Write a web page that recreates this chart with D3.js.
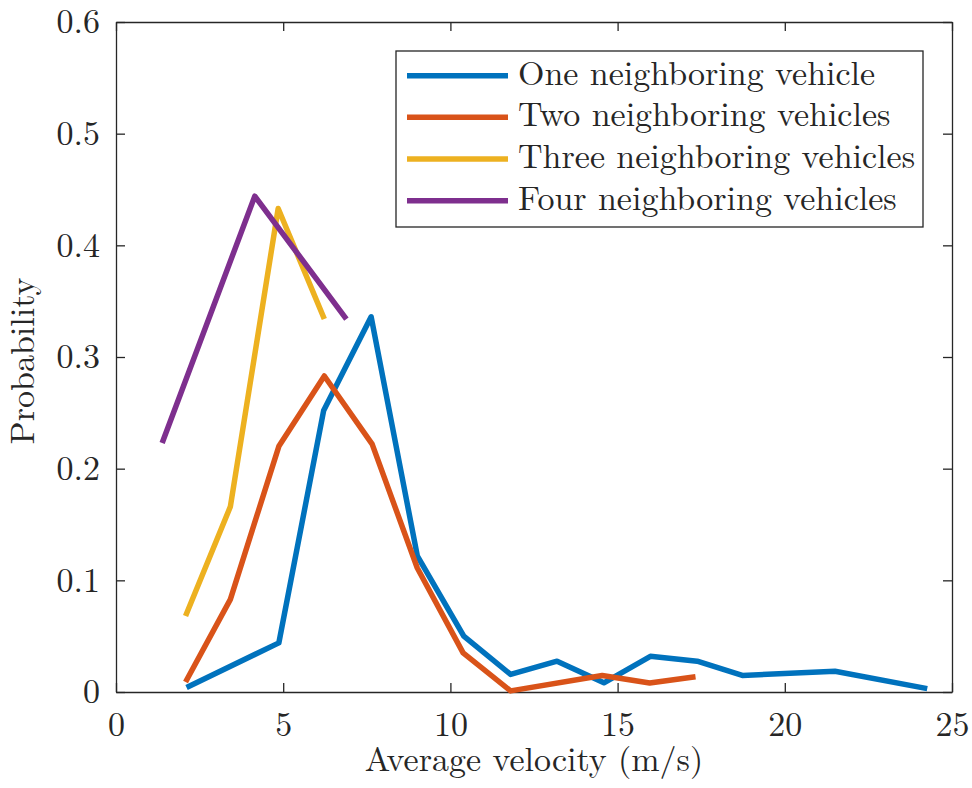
<!DOCTYPE html>
<html>
<head>
<meta charset="utf-8">
<script src="https://cdn.jsdelivr.net/npm/d3@7"></script>
<style>
  html, body { margin: 0; padding: 0; background: #fff; }
  svg { display: block; }
  text { font-family: "Latin Modern Roman", "Liberation Serif", serif; fill: #262626; }
</style>
</head>
<body>
<svg id="chart" width="972" height="788"></svg>
<script>
// ---- data ----
const seriesNames = ["One neighboring vehicle", "Two neighboring vehicles", "Three neighboring vehicles", "Four neighboring vehicles"];
const seriesColors = ["#0072BD", "#D95319", "#EDB120", "#7E2F8E"];

const oneX = [2.11, 4.87, 6.21, 7.63, 9.01, 10.40, 11.80, 13.19, 14.59, 15.98, 17.38, 18.73, 21.50, 24.26];
const oneY = [0.004, 0.044, 0.252, 0.336, 0.122, 0.050, 0.0157, 0.0276, 0.0082, 0.032, 0.0276, 0.0148, 0.0186, 0.003];

const twoX = [2.08, 3.42, 4.87, 6.23, 7.66, 9.01, 10.38, 11.80, 14.54, 15.96, 17.33];
const twoY = [0.009, 0.083, 0.220, 0.283, 0.222, 0.111, 0.035, 0.001, 0.0148, 0.008, 0.0136];

const threeX = [2.08, 3.42, 4.85, 6.23];
const threeY = [0.068, 0.166, 0.433, 0.334];

const fourX = [1.38, 4.15, 6.89];
const fourY = [0.223, 0.444, 0.334];

const xTicks = [0, 5, 10, 15, 20, 25];
const yTicks = [0, 0.1, 0.2, 0.3, 0.4, 0.5, 0.6];
const xLabel = "Average velocity (m/s)";
const yLabel = "Probability";

// ---- layout ----
const svg = d3.select("#chart");
const mLeft = 116, mRight = 952, mTop = 22, mBottom = 692;
const x = d3.scaleLinear().domain([0, 25]).range([mLeft, mRight]);
const y = d3.scaleLinear().domain([0, 0.6]).range([mBottom, mTop]);
const axisColor = "#262626";
const tickLen = 9;
const FONT = "Latin Modern Roman, Liberation Serif, serif";

// axes (box with inward ticks)
const gB = svg.append("g").attr("transform", `translate(0,${mBottom})`)
  .call(d3.axisBottom(x).tickValues(xTicks).tickSizeInner(-tickLen).tickSizeOuter(0).tickPadding(20).tickFormat(d3.format("d")));
const gT = svg.append("g").attr("transform", `translate(0,${mTop})`)
  .call(d3.axisTop(x).tickValues(xTicks).tickSizeInner(-tickLen).tickSizeOuter(0).tickFormat(""));
const gL = svg.append("g").attr("transform", `translate(${mLeft},0)`)
  .call(d3.axisLeft(y).tickValues(yTicks).tickSizeInner(-tickLen).tickSizeOuter(0).tickPadding(16).tickFormat(d => d === 0 ? "0" : d3.format(".1f")(d)));
const gR = svg.append("g").attr("transform", `translate(${mRight},0)`)
  .call(d3.axisRight(y).tickValues(yTicks).tickSizeInner(-tickLen).tickSizeOuter(0).tickFormat(""));

[gB, gT, gL, gR].forEach(g => {
  g.attr("font-family", FONT);
  g.select(".domain").attr("stroke", axisColor).attr("stroke-width", 1.3);
  g.selectAll(".tick line").attr("stroke", axisColor).attr("stroke-width", 1.3);
  g.selectAll(".tick text").attr("font-family", FONT).attr("font-size", 34).attr("fill", axisColor);
});
gB.selectAll(".tick text").attr("dy", "0.71em");
gL.selectAll(".tick text").attr("dy", "0.32em");

// lines
const xs = [oneX, twoX, threeX, fourX];
const ys = [oneY, twoY, threeY, fourY];
const line = d3.line().x(d => x(d[0])).y(d => y(d[1]));
xs.forEach((xa, i) => {
  const pts = xa.map((v, j) => [v, ys[i][j]]);
  svg.append("path")
    .attr("d", line(pts))
    .attr("fill", "none")
    .attr("stroke", seriesColors[i])
    .attr("stroke-width", 5.5)
    .attr("stroke-linejoin", "round")
    .attr("stroke-linecap", "butt");
});

// axis labels
svg.append("text")
  .attr("x", (mLeft + mRight) / 2).attr("y", 771)
  .attr("text-anchor", "middle")
  .attr("font-size", 34)
  .text(xLabel);

svg.append("text")
  .attr("transform", `translate(34,${(mTop + mBottom) / 2 + 4}) rotate(-90)`)
  .attr("text-anchor", "middle")
  .attr("font-size", 34)
  .text(yLabel);

// legend
const lgX = 396, lgY = 51, lgW = 527, lgH = 176;
svg.append("rect")
  .attr("x", lgX).attr("y", lgY).attr("width", lgW).attr("height", lgH)
  .attr("fill", "#fff").attr("stroke", axisColor).attr("stroke-width", 1.3);
const rowY = [75.7, 117.3, 159, 200.7];
seriesNames.forEach((name, i) => {
  svg.append("line")
    .attr("x1", 407).attr("x2", 508)
    .attr("y1", rowY[i]).attr("y2", rowY[i])
    .attr("stroke", seriesColors[i]).attr("stroke-width", 5.5);
  svg.append("text")
    .attr("x", 518).attr("y", rowY[i] + 9)
    .attr("font-size", 34)
    .text(name);
});
</script>
</body>
</html>
